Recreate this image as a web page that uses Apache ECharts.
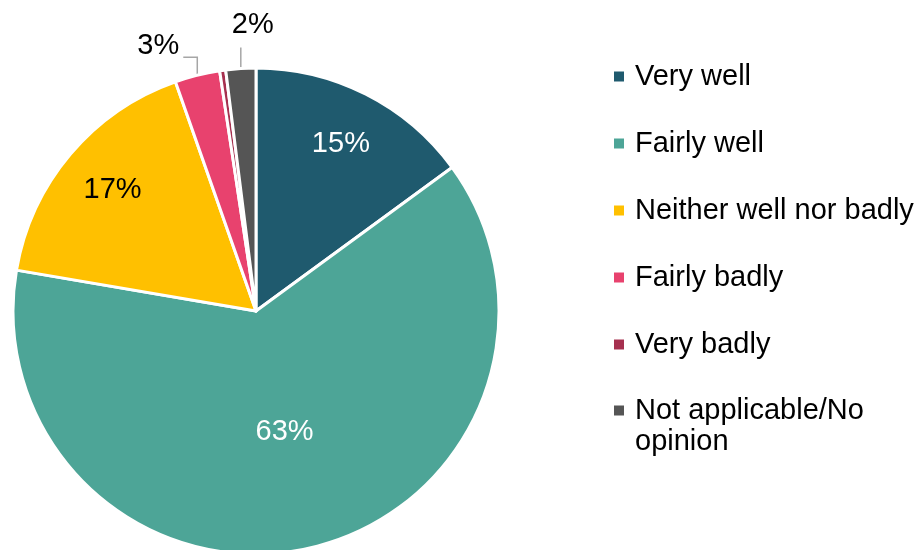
<!DOCTYPE html>
<html>
<head>
<meta charset="utf-8">
<script src="https://cdn.jsdelivr.net/npm/echarts@6/dist/echarts.min.js"></script>
<style>
  html, body { margin: 0; padding: 0; background: #fff; }
  #chart { width: 919px; height: 550px; }
</style>
</head>
<body>
<div id="chart"></div>
<script>
// Survey answers and their shares (percent)
const categories = ['Very well', 'Fairly well', 'Neither well nor badly', 'Fairly badly', 'Very badly', 'Not applicable/No opinion'];
const shares = [15, 63, 17, 3, 0.4, 2];
const labelShown = [true, true, true, true, false, true];
const colors = ['#1F5A6E', '#4DA597', '#FFC000', '#E8426E', '#A6304F', '#555555'];

const FONT = '"Liberation Sans", Arial, sans-serif';
const FONT_SIZE = 29;
const CENTER = [256, 311];
const RADIUS = 243;

// Slices whose labels sit near the rim, slices labelled at mid radius, slices labelled outside
const rimLabel = [true, false, true, false, false, false];
const outsideLabel = [false, false, false, true, false, true];
const whiteText = [true, true, false, false, false, false];

const mainData = categories.map((name, i) => ({
  name: name,
  value: shares[i],
  itemStyle: { color: colors[i] },
  label: {
    show: labelShown[i] && !rimLabel[i],
    position: outsideLabel[i] ? 'outside' : 'inside',
    color: whiteText[i] ? '#fff' : '#000'
  },
  labelLine: { show: outsideLabel[i] }
}));

const rimData = categories.map((name, i) => ({
  name: name,
  value: shares[i],
  label: { show: rimLabel[i], color: whiteText[i] ? '#fff' : '#000' }
}));

const fmt = p => Math.round(p.value) + '%';

const legendBase = {
  orient: 'vertical',
  left: 614,
  padding: 0,
  itemWidth: 10,
  itemHeight: 10,
  itemGap: 36,
  icon: 'rect',
  itemStyle: { borderWidth: 0 },
  selectedMode: false,
  textStyle: { fontFamily: FONT, fontSize: FONT_SIZE, lineHeight: 31, color: '#000', padding: [0, 0, 0, 6] }
};

const chart = echarts.init(document.getElementById('chart'), null, { renderer: 'canvas' });
chart.setOption({
  animation: false,
  backgroundColor: '#fff',
  legend: [
    Object.assign({}, legendBase, { top: 61, data: categories.slice(0, 5) }),
    // last entry wraps onto two lines; its marker stays on the first line
    Object.assign({}, legendBase, {
      top: 364,
      data: categories.slice(5),
      formatter: () => ' \nNot applicable/No\nopinion'
    })
  ],
  series: [
    {
      type: 'pie',
      center: CENTER,
      radius: RADIUS,
      startAngle: 90,
      clockwise: true,
      silent: true,
      itemStyle: { borderColor: '#fff', borderWidth: 3 },
      label: { formatter: fmt, fontFamily: FONT, fontSize: FONT_SIZE },
      labelLine: { lineStyle: { color: '#A6A6A6', width: 1.5 }, length: 12, length2: 10 },
      labelLayout: function (params) {
        const pts = params.labelLinePoints;
        if (!pts) return {};
        const p0 = pts[0];
        if (params.dataIndex === 3) {
          return {
            x: p0[0] - 18, y: p0[1] - 29, align: 'right', verticalAlign: 'middle',
            labelLinePoints: [p0, [p0[0], p0[1] - 18], [p0[0] - 14, p0[1] - 18]]
          };
        }
        if (params.dataIndex === 5) {
          return {
            x: p0[0] + 12, y: p0[1] - 43, align: 'center', verticalAlign: 'middle',
            labelLinePoints: [p0, [p0[0], p0[1] - 21]]
          };
        }
        return {};
      },
      data: mainData
    },
    {
      // transparent twin, only used to place labels close to the rim
      type: 'pie',
      center: CENTER,
      radius: [0, RADIUS * 1.52],
      startAngle: 90,
      clockwise: true,
      silent: true,
      itemStyle: { color: 'rgba(0,0,0,0)' },
      label: { position: 'inside', formatter: fmt, fontFamily: FONT, fontSize: FONT_SIZE },
      labelLine: { show: false },
      emphasis: { disabled: true },
      data: rimData
    }
  ]
});
</script>
</body>
</html>
